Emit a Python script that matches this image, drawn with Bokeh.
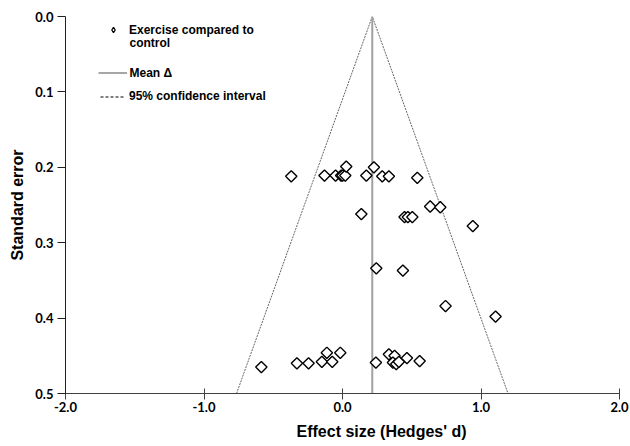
import math
from bokeh.plotting import figure
from bokeh.models import (Range1d, FixedTicker, NumeralTickFormatter, Legend,
                          LegendItem, Label, Title)
from bokeh.embed import file_html
from bokeh.resources import INLINE

# ---- data ----
effect_size = [-0.37, -0.13, -0.05, -0.01, 0.00, 0.02, 0.027, 0.172, 0.227, 0.287, 0.335, 0.540,
               0.136, 0.448, 0.472, 0.504, 0.633, 0.706, 0.941,
               0.244, 0.436, 0.744, 1.105,
               -0.586, -0.329, -0.245, -0.149, -0.113, -0.074, -0.016,
               0.241, 0.335, 0.376, 0.364, 0.388, 0.407, 0.465, 0.557]
std_error = [0.212, 0.211, 0.211, 0.211, 0.211, 0.211, 0.199, 0.211, 0.200, 0.212, 0.212, 0.214,
             0.262, 0.266, 0.266, 0.266, 0.252, 0.253, 0.278,
             0.334, 0.337, 0.384, 0.398,
             0.465, 0.460, 0.460, 0.458, 0.446, 0.458, 0.446,
             0.459, 0.448, 0.450, 0.459, 0.461, 0.458, 0.453, 0.457]
mean_delta = 0.215
z95 = 1.96
se_max = 0.5
x_ticks = [-2, -1, 0, 1, 2]
y_ticks = [0.0, 0.1, 0.2, 0.3, 0.4, 0.5]

legend_labels = ["Exercise compared to", "control", "Mean \u0394", "95% confidence interval"]
x_title = "Effect size (Hedges' d)"
y_title = "Standard error"

TXT = "Liberation Sans"
NUM = "Lato"
NAN = float("nan")

p = figure(width=630, height=446, output_backend="svg", toolbar_location=None,
           x_range=Range1d(-2, 2), y_range=Range1d(0.5, 0),
           min_border_left=65, min_border_right=11, min_border_top=16, min_border_bottom=53)
p.outline_line_color = None
p.grid.visible = False
p.background_fill_color = "white"

# confidence funnel
p.line([mean_delta - z95 * se_max, mean_delta, mean_delta + z95 * se_max],
       [se_max, 0, se_max], line_color="#666666", line_width=1, line_dash="2 1")
# mean line
p.line([mean_delta, mean_delta], [0, se_max], line_color="#a0a0a0", line_width=2)

# studies
p.scatter(effect_size, std_error, marker="square", angle=math.pi / 4, size=8,
          fill_color="white", line_color="black", line_width=1.4)

# axes
xa = p.xaxis[0]
xa.ticker = FixedTicker(ticks=x_ticks)
xa.formatter = NumeralTickFormatter(format="0.0")
xa.major_tick_in = 5
xa.major_tick_out = 6
xa.minor_tick_line_color = None
xa.axis_line_color = "#404040"
xa.major_tick_line_color = "#404040"
xa.major_label_text_font = NUM
xa.major_label_text_font_style = "bold"
xa.major_label_text_font_size = "13px"
xa.major_label_text_color = "black"
xa.major_label_standoff = 2

ya = p.yaxis[0]
ya.ticker = FixedTicker(ticks=y_ticks)
ya.formatter = NumeralTickFormatter(format="0.0")
ya.major_tick_in = 0
ya.major_tick_out = 8
ya.minor_tick_line_color = None
ya.axis_line_color = "#202020"
ya.major_tick_line_color = "#202020"
ya.major_label_text_font = NUM
ya.major_label_text_font_style = "bold"
ya.major_label_text_font_size = "13px"
ya.major_label_text_color = "black"
ya.major_label_standoff = 4
ya.axis_label = y_title
ya.axis_label_text_font = TXT
ya.axis_label_text_font_style = "bold"
ya.axis_label_text_font_size = "16px"
ya.axis_label_text_color = "black"
ya.axis_label_standoff = 6

# x axis title, placed as a title panel below the axis (off-centre like the reference)
p.add_layout(Title(text=x_title, align="left", offset=231, standoff=13,
                   text_font=TXT, text_font_style="bold", text_font_size="16px",
                   text_color="black"), "below")

# legend (three separate blocks to mimic the uneven spacing); the renderers hold a
# single NaN point so that only their legend glyph is drawn
r_m = p.scatter([NAN], [NAN], marker="diamond", size=9,
                fill_color="white", line_color="black", line_width=1.3)
r_l = p.line([NAN, NAN], [NAN, NAN], line_color="#a6a6a6", line_width=2)
r_d = p.line([NAN, NAN], [NAN, NAN], line_color="black", line_width=1, line_dash="3 2")


def make_legend(label, rend, loc, gw, standoff):
    return Legend(items=[LegendItem(label=label, renderers=[rend])], location=loc,
                  padding=0, margin=0, spacing=0, glyph_width=gw, glyph_height=13,
                  label_height=13, label_standoff=standoff, border_line_color=None,
                  background_fill_alpha=0, label_text_font=TXT,
                  label_text_font_style="bold", label_text_font_size="12px",
                  label_text_color="black")


p.add_layout(make_legend(legend_labels[0], r_m, (41, 356.5), 14, 9))
p.add_layout(make_legend(legend_labels[2], r_l, (32.5, 313.5), 29, 3))
p.add_layout(make_legend(legend_labels[3], r_d, (35, 290), 25, 4))
p.add_layout(Label(x=64, y=350.3, x_units="screen", y_units="screen", text=legend_labels[1],
                   text_align="left", text_baseline="middle", text_font=TXT,
                   text_font_style="bold", text_font_size="12px", text_color="black"))

open("out.html", "w").write(file_html(p, INLINE))
